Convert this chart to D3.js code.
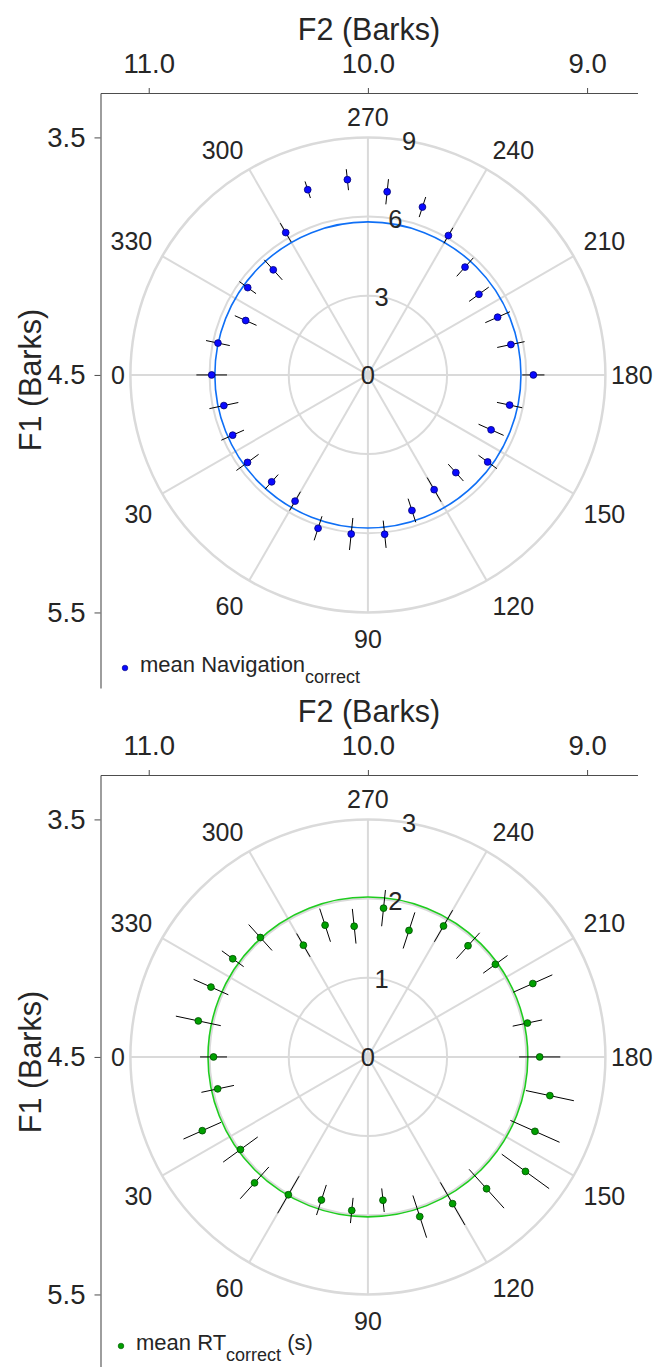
<!DOCTYPE html>
<html>
<head>
<meta charset="utf-8">
<script src="https://cdn.jsdelivr.net/npm/d3@7"></script>
<style>
  html, body { margin: 0; padding: 0; background: #fff; }
  svg { display: block; font-family: "Liberation Sans", Arial, Helvetica, sans-serif; }
</style>
</head>
<body>
<svg id="chart" width="657" height="1367"></svg>
<script>
// Stimulus direction (deg) around the vowel-space centre
const angles = [0, 12, 24, 36, 48, 60, 72, 84, 96, 108, 120, 132, 144, 156, 168,
                180, 192, 204, 216, 228, 240, 252, 264, 276, 288, 300, 312, 324, 336, 348];

// Navigation performance (correct), mean and error per direction
const navMean = [5.92, 5.58, 5.61, 5.64, 5.45, 5.52, 6.11, 6.06, 6.07, 5.40, 5.02, 4.98, 5.61, 5.11, 5.49,
                 6.27, 5.54, 5.38, 5.20, 5.50, 6.10, 6.69, 6.98, 7.44, 7.38, 6.23, 5.36, 5.63, 5.07, 5.81];
const navErr  = [0.58, 0.56, 0.47, 0.52, 0.37, 0.41, 0.48, 0.61, 0.52, 0.47, 0.53, 0.43, 0.43, 0.52, 0.49,
                 0.42, 0.53, 0.51, 0.46, 0.47, 0.34, 0.40, 0.48, 0.40, 0.33, 0.41, 0.51, 0.39, 0.45, 0.46];
const navFit = 5.80;

// Reaction time (correct trials, s), mean and error per direction
const rtMean = [1.95, 1.94, 2.29, 1.99, 2.14, 2.01, 1.90, 1.95, 1.82, 2.12, 2.14, 2.24, 2.46, 2.31, 2.35,
                2.17, 2.06, 2.28, 1.99, 1.89, 1.91, 1.68, 1.89, 1.66, 1.75, 1.63, 2.03, 2.11, 2.17, 2.19];
const rtErr  = [0.17, 0.21, 0.26, 0.27, 0.27, 0.27, 0.20, 0.16, 0.15, 0.28, 0.31, 0.33, 0.37, 0.34, 0.31,
                0.26, 0.19, 0.27, 0.19, 0.22, 0.23, 0.24, 0.23, 0.22, 0.22, 0.17, 0.22, 0.17, 0.24, 0.29];
const rtFit = 2.02;

// Axis ticks
const f2Ticks = [11.0, 10.0, 9.0];
const f1Ticks = [3.5, 4.5, 5.5];
const thetaTicks = [0, 30, 60, 90, 120, 150, 180, 210, 240, 270, 300, 330];
const navRTicks = [0, 3, 6, 9];
const rtRTicks = [0, 1, 2, 3];

const TEXT = "#262626";
const GRID = "#dadada";

const svg = d3.select("#chart");

const panels = [
  { top: 0,   mean: navMean, err: navErr, fit: navFit, rTicks: navRTicks,
    fitColor: "#0f6ff5", dotFill: "#0a0aff", dotStroke: "#00007a",
    legend: ["mean Navigation", "correct", ""], legendX: 125, legendY: 668 },
  { top: 682, mean: rtMean, err: rtErr, fit: rtFit, rTicks: rtRTicks,
    fitColor: "#1fcc1f", dotFill: "#00a000", dotStroke: "#004d00",
    legend: ["mean RT", "correct", " (s)"], legendX: 121, legendY: 664 }
];

panels.forEach(p => drawPanel(p));

function drawPanel(p) {
  const g = svg.append("g").attr("transform", `translate(0,${p.top})`);

  // Cartesian frame: F2 on top (reversed), F1 on the left (reversed)
  const x = d3.scaleLinear().domain([11.22, 8.77]).range([100.5, 637.5]);
  const y = d3.scaleLinear().domain([3.313, 5.818]).range([93, 688]);

  const xAxis = d3.axisTop(x).tickValues(f2Ticks).tickFormat(d3.format(".1f"))
    .tickSizeInner(5).tickSizeOuter(0).tickPadding(15);
  const yAxis = d3.axisLeft(y).tickValues(f1Ticks).tickFormat(d3.format(".1f"))
    .tickSizeInner(6).tickSizeOuter(0).tickPadding(9);

  const gx = g.append("g").attr("transform", `translate(0,${y.range()[0]})`).call(xAxis);
  const gy = g.append("g").attr("transform", `translate(${x.range()[0]},0)`).call(yAxis);
  [gx, gy].forEach(a => {
    a.select(".domain").attr("stroke", "#4d4d4d").attr("stroke-width", 1.1);
    a.selectAll(".tick line").attr("stroke", "#4d4d4d");
    a.selectAll(".tick text").attr("fill", TEXT).attr("font-size", 27.5)
      .attr("font-family", "Liberation Sans, Arial, sans-serif");
  });

  g.append("text").attr("x", (x.range()[0] + x.range()[1]) / 2).attr("y", 40)
    .attr("text-anchor", "middle").attr("fill", TEXT).attr("font-size", 30.5)
    .text("F2 (Barks)");
  g.append("text").attr("transform", "translate(41,380) rotate(-90)")
    .attr("text-anchor", "middle").attr("fill", TEXT).attr("font-size", 30.5)
    .text("F1 (Barks)");

  // Polar frame centred on F2 = 10, F1 = 4.5
  const cx = x(10.0), cy = y(4.5);
  const rMax = p.rTicks[p.rTicks.length - 1];
  const r = d3.scaleLinear().domain([0, rMax]).range([0, 237.5]);
  const pt = (theta, v) => {
    const a = theta * Math.PI / 180;
    return [cx - r(v) * Math.cos(a), cy + r(v) * Math.sin(a)];
  };

  const grid = g.append("g");
  grid.selectAll("line.spoke").data(thetaTicks).join("line")
    .attr("class", "spoke")
    .attr("x1", cx).attr("y1", cy)
    .attr("x2", d => pt(d, rMax)[0]).attr("y2", d => pt(d, rMax)[1])
    .attr("stroke", GRID).attr("stroke-width", 2);
  grid.selectAll("circle.ring").data(p.rTicks.filter(d => d > 0)).join("circle")
    .attr("class", "ring")
    .attr("cx", cx).attr("cy", cy).attr("r", d => r(d))
    .attr("fill", "none").attr("stroke", GRID).attr("stroke-width", d => d === rMax ? 2.5 : 2);

  // Direction labels, aligned outward from a ring just outside the frame
  const labelR = 249, fs = 25;
  g.append("g").selectAll("text").data(thetaTicks).join("text")
    .attr("text-anchor", d => {
      const ux = -Math.cos(d * Math.PI / 180);
      return ux > 0.1 ? "start" : ux < -0.1 ? "end" : "middle";
    })
    .attr("x", d => {
      const ux = -Math.cos(d * Math.PI / 180);
      const pull = Math.abs(ux) > 0.9 ? -6 * Math.sign(ux) : 0;
      return cx + labelR * ux + pull;
    })
    .attr("y", d => {
      const uy = Math.sin(d * Math.PI / 180);
      const py = cy + labelR * uy;
      if (uy > 0.1) return py + 0.72 * fs + 6;
      if (uy < -0.1) return py;
      return py + 0.36 * fs;
    })
    .attr("fill", TEXT).attr("font-size", fs)
    .text(d => d);

  // Fitted circle
  g.append("circle").attr("cx", cx).attr("cy", cy).attr("r", r(p.fit))
    .attr("fill", "none").attr("stroke", p.fitColor).attr("stroke-width", 1.6);

  // Radial tick labels along the 260 deg direction
  g.append("g").selectAll("text").data(p.rTicks).join("text")
    .attr("x", d => pt(260, d)[0]).attr("y", d => pt(260, d)[1])
    .attr("dy", "0.36em").attr("text-anchor", "middle")
    .attr("fill", TEXT).attr("font-size", 25.5)
    .text(d => d);

  const rows = angles.map((a, i) => ({ a, m: p.mean[i], e: p.err[i] }));

  // Radial error bars
  g.append("g").selectAll("line").data(rows).join("line")
    .attr("x1", d => pt(d.a, d.m - d.e)[0]).attr("y1", d => pt(d.a, d.m - d.e)[1])
    .attr("x2", d => pt(d.a, d.m + d.e)[0]).attr("y2", d => pt(d.a, d.m + d.e)[1])
    .attr("stroke", "#000").attr("stroke-width", 1);

  // Means
  g.append("g").selectAll("circle").data(rows).join("circle")
    .attr("cx", d => pt(d.a, d.m)[0]).attr("cy", d => pt(d.a, d.m)[1])
    .attr("r", 3.4).attr("fill", p.dotFill).attr("stroke", p.dotStroke).attr("stroke-width", 0.8);

  // Legend
  const lg = g.append("g");
  lg.append("circle").attr("cx", p.legendX).attr("cy", p.legendY).attr("r", 2.8)
    .attr("fill", p.dotFill).attr("stroke", p.dotStroke).attr("stroke-width", 0.6);
  const t = lg.append("text").attr("x", p.legendX + 15).attr("y", p.legendY + 4)
    .attr("fill", TEXT).attr("font-size", 22);
  t.append("tspan").text(p.legend[0]);
  t.append("tspan").attr("dy", 11).attr("font-size", 18).text(p.legend[1]);
  if (p.legend[2]) t.append("tspan").attr("dy", -11).text(p.legend[2]);
}
</script>
</body>
</html>
